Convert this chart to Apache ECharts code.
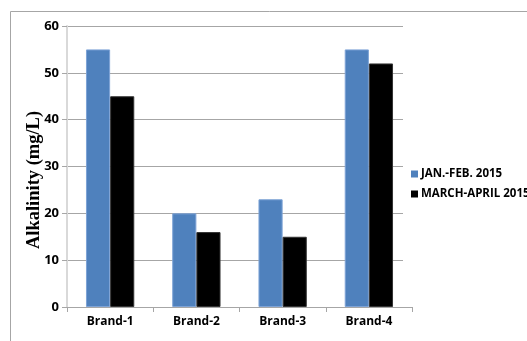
<!DOCTYPE html>
<html><head><meta charset="utf-8">
<script src="https://cdn.jsdelivr.net/npm/echarts@6/dist/echarts.min.js"></script>
<style>html,body{margin:0;padding:0;background:#fff}#c{width:527px;height:341px}</style>
</head><body><div id="c"></div>
<script>
const categories = ['Brand-1', 'Brand-2', 'Brand-3', 'Brand-4'];
const janFeb = [55, 20, 23, 55];
const marchApril = [45, 16, 15, 52];
const seriesNames = ['JAN.-FEB. 2015', 'MARCH-APRIL 2015'];
const yTitle = 'Alkalinity (mg/L)';

const chart = echarts.init(document.getElementById('c'), null, {renderer: 'canvas'});
const lbl = {fontFamily: 'Open Sans', fontWeight: 'bold', color: '#000'};
chart.setOption({
  animation: false,
  graphic: [
    {type: 'rect', shape: {x: 10.5, y: 11.5, width: 600, height: 400}, style: {fill: 'none', stroke: '#a6a6a6', lineWidth: 1}, z: -10},
    {type: 'text', x: 34, y: 180, rotation: Math.PI / 2,
     style: {text: yTitle, fontFamily: 'Liberation Serif', fontWeight: 'bold', fontSize: 18.5, fill: '#000', align: 'center', verticalAlign: 'middle'}}
  ],
  grid: [
    {left: 67, top: 26, width: 345, height: 281, containLabel: false},
    {left: 67, top: 26, width: 336, height: 281, containLabel: false}
  ],
  legend: {
    orient: 'vertical', left: 406, top: 163, itemWidth: 7, itemHeight: 7, itemGap: 8,
    icon: 'rect', itemStyle: {borderWidth: 0},
    textStyle: Object.assign({fontSize: 11.5, padding: [0, 0, 0, -2]}, lbl),
    data: seriesNames
  },
  xAxis: [
    {gridIndex: 0, type: 'category', data: categories,
     axisLine: {lineStyle: {color: '#a6a6a6', width: 1}},
     axisTick: {show: true, length: 5, lineStyle: {color: '#a6a6a6'}},
     axisLabel: Object.assign({fontSize: 12, margin: 9}, lbl)},
    {gridIndex: 1, type: 'category', data: categories, show: false}
  ],
  yAxis: [
    {gridIndex: 0, type: 'value', min: 0, max: 60, interval: 10,
     axisLine: {show: true, lineStyle: {color: '#d9d9d9', width: 2}},
     axisTick: {show: true, length: 5, lineStyle: {color: '#a6a6a6'}},
     splitLine: {show: false},
     axisLabel: Object.assign({fontSize: 13, margin: 8}, lbl)},
    {gridIndex: 1, type: 'value', min: 0, max: 60, interval: 10,
     axisLine: {show: false}, axisTick: {show: false}, axisLabel: {show: false},
     splitLine: {show: true, lineStyle: {color: '#a6a6a6', width: 1}}}
  ],
  series: [
    {name: seriesNames[0], type: 'bar', data: janFeb, barGap: '0%', barCategoryGap: '44%',
     itemStyle: {color: '#4f81bd', borderColor: '#7ea3d6', borderWidth: 1}},
    {name: seriesNames[1], type: 'bar', data: marchApril,
     itemStyle: {color: '#000000', borderColor: '#333', borderWidth: 1}}
  ]
});
</script></body></html>
